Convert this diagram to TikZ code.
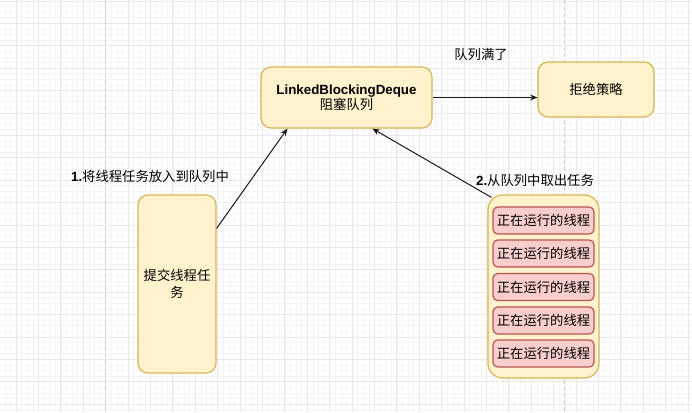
\documentclass[tikz,border=0pt]{standalone}
\usepackage{fontspec}
\setmainfont{Liberation Sans}
\newfontfamily\cjk{Noto Sans CJK SC}
\usetikzlibrary{arrows.meta,calc}
\definecolor{yfill}{HTML}{FFF2CC}
\definecolor{ydraw}{HTML}{D6B656}
\definecolor{rfill}{HTML}{F8CECC}
\definecolor{rdraw}{HTML}{B85450}
\definecolor{gmaj}{HTML}{E9E9E9}
\definecolor{gmin}{HTML}{F5F5F5}
\definecolor{gdash}{HTML}{CFCFCF}
\begin{document}
\begin{tikzpicture}[x=0.75pt,y=-0.75pt,
  ybox/.style={draw=ydraw,fill=yfill,line width=0.9pt,rounded corners=7.5pt,align=center,inner sep=0pt},
  rbox/.style={draw=rdraw,fill=rfill,line width=0.9pt,rounded corners=3.5pt,align=center,inner sep=0pt,minimum width=75.75pt,minimum height=20.25pt,font=\fontsize{10pt}{12pt}\selectfont\cjk},
  lbl/.style={font=\fontsize{10pt}{12pt}\selectfont\cjk,inner sep=0pt},
  conn/.style={draw=black!90,line width=0.75pt,-{Stealth[length=5.5pt,width=4.5pt]}}]
\useasboundingbox (0,0) rectangle (692,412);
\fill[white] (0,0) rectangle (692,412);
% minor grid
\foreach \i in {0,...,124} {\draw[gmin,line width=0.4pt] ({16+5.6*(\i-2)},0) -- ({16+5.6*(\i-2)},412);}
\foreach \i in {0,...,75} {\draw[gmin,line width=0.4pt] (0,{0.9+5.6*\i}) -- (692,{0.9+5.6*\i});}
% major grid
\foreach \i in {0,...,30} {\draw[gmaj,line width=0.5pt] ({16+22.4*\i},0) -- ({16+22.4*\i},412);}
\foreach \i in {0,...,18} {\draw[gmaj,line width=0.5pt] (0,{0.9+22.4*\i}) -- (692,{0.9+22.4*\i});}
% page break lines
\draw[gdash,line width=0.6pt,dash pattern=on 3pt off 2pt] (105.7,0) -- (105.7,412);
\draw[gdash,line width=0.6pt,dash pattern=on 3pt off 2pt] (564.3,0) -- (564.3,412);

\node[ybox,minimum width=128.25pt,minimum height=45.75pt,font=\fontsize{10pt}{12pt}\selectfont] (deque) at (346.5,97.5)
  {\textbf{LinkedBlockingDeque}\\[-0.5pt]{\cjk 阻塞队列}};
\node[ybox,minimum width=87pt,minimum height=41.25pt,font=\fontsize{10pt}{12pt}\selectfont\cjk] (reject) at (596,89.5)
  {拒绝策略};
\node[ybox,minimum width=58.5pt,minimum height=133.5pt,font=\fontsize{10pt}{12.5pt}\selectfont\cjk] (submit) at (177,284)
  {提交线程任\\务};
\node[ybox,rounded corners=11pt,minimum width=83.25pt,minimum height=137.25pt] (pool) at (543.5,286.5) {};
\node[rbox] (t1) at (543.5,220.5) {正在运行的线程};
\node[rbox] (t2) at (543.5,253.5) {正在运行的线程};
\node[rbox] (t3) at (543.5,287) {正在运行的线程};
\node[rbox] (t4) at (543.5,320.5) {正在运行的线程};
\node[rbox] (t5) at (543.5,353.5) {正在运行的线程};

\node[lbl] (full) at (481,54) {队列满了};
\node[lbl] (put) at (150,176) {\textbf{\fontspec{Liberation Sans}1.}将线程任务放入到队列中};
\node[lbl] (take) at (535,180) {\textbf{\fontspec{Liberation Sans}2.}从队列中取出任务};

\coordinate (a1s) at ($(submit.north east)+(0,34)$);
\coordinate (a1e) at ($(deque.south west)+(27,0)$);
\coordinate (a2s) at ($(pool.north west)+(4,3)$);
\coordinate (a2e) at ($(deque.south west)+(112,0)$);
\draw[conn] (deque.east) -- (deque.east -| reject.west);
\draw[conn] (a1s) -- (a1e);
\draw[conn] (a2s) -- (a2e);
\end{tikzpicture}
\end{document}
